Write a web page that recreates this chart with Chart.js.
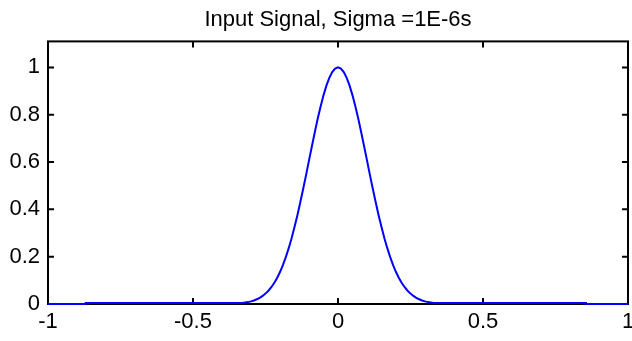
<!DOCTYPE html>
<html>
<head>
<meta charset="utf-8">
<script src="https://cdn.jsdelivr.net/npm/chart.js@4/dist/chart.umd.min.js"></script>
<style>
  body { margin: 0; background: #fff; }
</style>
</head>
<body>
<canvas id="signalChart" width="632" height="341"></canvas>
<script>
// values
const titleText = "Input Signal, Sigma =1E-6s";
const xTicks = [-1, -0.5, 0, 0.5, 1];
const yTicks = [0, 0.2, 0.4, 0.6, 0.8, 1];

const signalX = [
  -1, -0.87, -0.87,
  -0.33, -0.32, -0.31, -0.30, -0.29, -0.28, -0.27, -0.26, -0.25, -0.24,
  -0.23, -0.22, -0.21, -0.20, -0.19, -0.18, -0.17, -0.16, -0.15, -0.14,
  -0.13, -0.12, -0.11, -0.10, -0.09, -0.08, -0.07, -0.06, -0.05, -0.04,
  -0.03, -0.02, -0.01, 0, 0.01, 0.02, 0.03, 0.04, 0.05, 0.06,
  0.07, 0.08, 0.09, 0.10, 0.11, 0.12, 0.13, 0.14, 0.15, 0.16,
  0.17, 0.18, 0.19, 0.20, 0.21, 0.22, 0.23, 0.24, 0.25, 0.26,
  0.27, 0.28, 0.29, 0.30, 0.31, 0.32, 0.33,
  0.855, 0.855, 1
];
const signalY = [
  0, 0, 0.004,
  0.004, 0.006, 0.008, 0.011, 0.015, 0.020, 0.026, 0.034, 0.044, 0.056,
  0.071, 0.089, 0.110, 0.135, 0.164, 0.198, 0.236, 0.278, 0.325, 0.375,
  0.430, 0.487, 0.546, 0.607, 0.667, 0.726, 0.783, 0.835, 0.882, 0.923,
  0.956, 0.980, 0.995, 1.000, 0.995, 0.980, 0.956, 0.923, 0.882, 0.835,
  0.783, 0.726, 0.667, 0.607, 0.546, 0.487, 0.430, 0.375, 0.325, 0.278,
  0.236, 0.198, 0.164, 0.135, 0.110, 0.089, 0.071, 0.056, 0.044, 0.034,
  0.026, 0.020, 0.015, 0.011, 0.008, 0.006, 0.004,
  0.004, 0, 0
];

const points = signalX.map((x, i) => ({ x: x, y: signalY[i] }));
const labelFont = { family: "'Liberation Sans', Arial, sans-serif", size: 22 };

// matlab style box with inward ticks
const framePlugin = {
  id: "frame",
  beforeDatasetsDraw(chart) {
    const { ctx, chartArea: a, scales } = chart;
    const len = 6;
    ctx.save();
    ctx.strokeStyle = "#000";
    ctx.lineWidth = 2;
    ctx.strokeRect(a.left, a.top, a.right - a.left, a.bottom - a.top);
    ctx.beginPath();
    xTicks.forEach(v => {
      const px = scales.x.getPixelForValue(v);
      ctx.moveTo(px, a.bottom); ctx.lineTo(px, a.bottom - len);
      ctx.moveTo(px, a.top); ctx.lineTo(px, a.top + len);
    });
    yTicks.forEach(v => {
      const py = scales.y.getPixelForValue(v);
      ctx.moveTo(a.left, py); ctx.lineTo(a.left + len, py);
      ctx.moveTo(a.right, py); ctx.lineTo(a.right - len, py);
    });
    ctx.stroke();
    ctx.restore();
  }
};

new Chart(document.getElementById("signalChart"), {
  type: "line",
  data: {
    datasets: [{
      data: points,
      borderColor: "#0000ff",
      borderWidth: 2,
      pointRadius: 0,
      tension: 0,
      fill: false,
      clip: 3
    }]
  },
  options: {
    responsive: false,
    animation: false,
    layout: { padding: { left: 0, right: 4, top: 0, bottom: 0 } },
    plugins: {
      legend: { display: false },
      tooltip: { enabled: false },
      title: {
        display: true,
        text: titleText,
        color: "#000",
        fullSize: false,
        font: { family: labelFont.family, size: 22, weight: "normal" },
        padding: { top: 7, bottom: 8 }
      }
    },
    scales: {
      x: {
        type: "linear",
        min: -1,
        max: 1,
        grid: { display: false, drawTicks: false },
        border: { display: false },
        ticks: { color: "#000", font: labelFont, padding: 5, maxRotation: 0, callback: v => String(v) },
        afterBuildTicks: s => { s.ticks = xTicks.map(v => ({ value: v })); },
        afterFit: s => { s.height = 37; s.paddingLeft = 0; s.paddingRight = 0; }
      },
      y: {
        min: 0,
        max: 1.11,
        grid: { display: false, drawTicks: false },
        border: { display: false },
        ticks: { color: "#000", font: labelFont, padding: 8, callback: v => String(v) },
        afterBuildTicks: s => { s.ticks = yTicks.map(v => ({ value: v })); },
        afterFit: s => { s.width = 48; s.paddingTop = 0; s.paddingBottom = 0; }
      }
    }
  },
  plugins: [framePlugin]
});
</script>
</body>
</html>
